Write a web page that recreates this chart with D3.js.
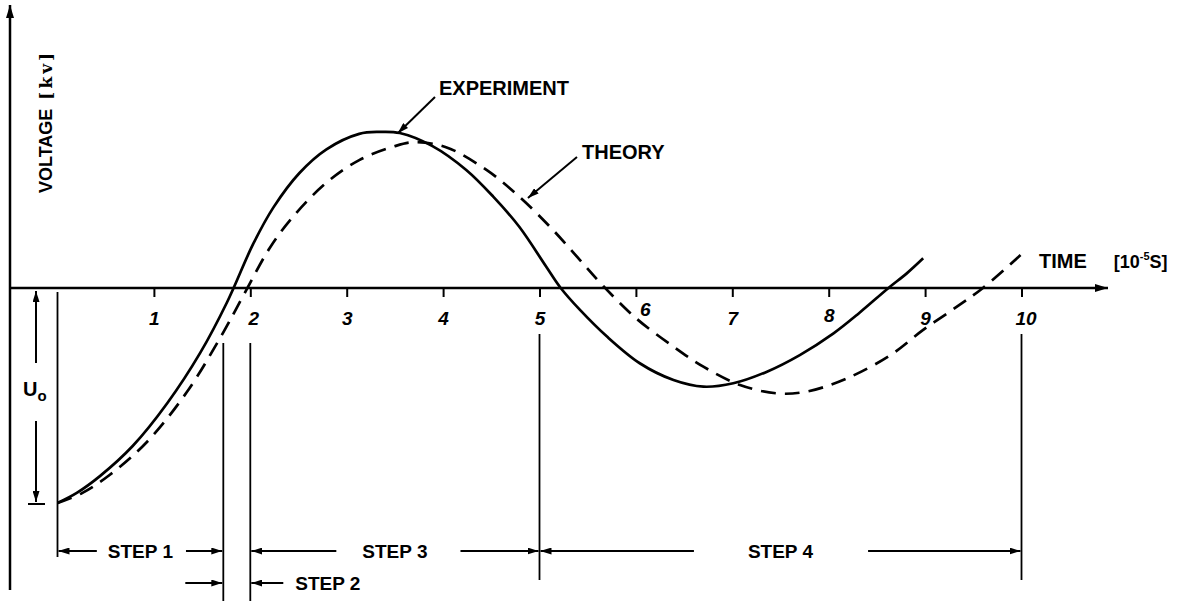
<!DOCTYPE html>
<html><head><meta charset="utf-8">
<script src="https://cdn.jsdelivr.net/npm/d3@7"></script>
<style>body{margin:0;background:#fff}svg{display:block}</style>
</head><body>
<svg id="chart" width="1180" height="601"></svg>
<script>
// ---- data ----
const timeTicks = [1, 2, 3, 4, 5, 6, 7, 8, 9, 10];
const expT = [0, 0.20, 0.44, 0.78, 1.14, 1.48, 1.76, 2.03, 2.24, 2.51, 2.79, 3.13, 3.34, 3.55, 3.89, 4.24, 4.52, 4.79, 5.07, 5.22, 5.42, 5.70, 6.04, 6.39, 6.70, 7.01, 7.36, 7.70, 8.05, 8.32, 8.62, 8.81, 8.98];
const expV = [-10.0, -9.53, -8.75, -7.35, -5.35, -3.02, -0.65, 2.05, 3.75, 5.35, 6.45, 7.17, 7.26, 7.21, 6.60, 5.49, 4.25, 2.85, 0.99, 0, -1.02, -2.26, -3.50, -4.28, -4.59, -4.43, -3.89, -3.12, -2.11, -1.15, 0, 0.68, 1.38];
const theoryT = [0, 0.25, 0.54, 0.93, 1.34, 1.69, 1.92, 2.20, 2.44, 2.79, 3.13, 3.48, 3.69, 4.03, 4.45, 4.79, 5.14, 5.42, 5.66, 6.00, 6.39, 6.70, 7.08, 7.46, 7.77, 8.19, 8.64, 8.98, 9.33, 9.60, 9.99];
const theoryV = [-10.0, -9.55, -8.70, -7.15, -4.85, -2.30, -0.42, 1.85, 3.30, 4.90, 5.95, 6.57, 6.78, 6.55, 5.49, 4.25, 2.70, 1.30, 0.10, -1.40, -2.73, -3.66, -4.51, -4.90, -4.82, -4.20, -3.12, -1.95, -0.87, 0, 1.53];
const stepNames = ["STEP 1", "STEP 2", "STEP 3", "STEP 4"];
const stepBounds = [0, 1.72, 2, 5, 10];
const seriesNames = ["EXPERIMENT", "THEORY"];
const yTitle = "VOLTAGE";
const yUnit = "[kv]";
const xTitle = "TIME";

// ---- layout ----
const svg = d3.select("#chart");
const FONT = "'Liberation Sans', Arial, sans-serif";
const x = d3.scaleLinear().domain([0, 10]).range([57.5, 1021.5]);
const y = d3.scaleLinear().domain([-10, 0]).range([503, 288]);
const y0 = y(0);

const defs = svg.append("defs");
function marker(id, w, h) {
  defs.append("marker").attr("id", id)
    .attr("viewBox", `0 0 ${w} ${h}`).attr("refX", w).attr("refY", h / 2)
    .attr("markerWidth", w).attr("markerHeight", h)
    .attr("markerUnits", "userSpaceOnUse").attr("orient", "auto-start-reverse")
    .append("path").attr("d", `M0,0 L${w},${h / 2} L0,${h} z`).attr("fill", "#000");
}
marker("ah", 11, 7);
marker("axh", 13, 8);

// axes lines
svg.append("line").attr("x1", 10).attr("x2", 10).attr("y1", 590).attr("y2", 5)
  .attr("stroke", "#000").attr("stroke-width", 2.5).attr("marker-end", "url(#axh)");
svg.append("line").attr("x1", 10).attr("x2", 1108).attr("y1", y0).attr("y2", y0)
  .attr("stroke", "#000").attr("stroke-width", 2.5).attr("marker-end", "url(#axh)");

// ticks
const ax = svg.append("g").attr("transform", `translate(0,${y0})`)
  .call(d3.axisBottom(x).tickValues(timeTicks).tickSize(9).tickPadding(16).tickFormat(d3.format("d")));
ax.select(".domain").remove();
ax.selectAll(".tick line").attr("stroke", "#000").attr("stroke-width", 2);
ax.selectAll(".tick text").attr("fill", "#000")
  .style("font-family", FONT).style("font-size", "19px").style("font-weight", "bold").style("font-style", "italic")
  .attr("dx", d => d === 6 ? 9 : (d === 2 ? 3 : (d === 10 ? 4 : 0)))
  .attr("y", d => d === 6 ? 15 : (d === 8 ? 21 : 24))
  .attr("dy", "0.71em");

// curves
const line = d3.line().x(d => x(d[0])).y(d => y(d[1])).curve(d3.curveCatmullRom.alpha(0.5));
svg.append("path").datum(expT.map((t, i) => [t, expV[i]]))
  .attr("d", line).attr("fill", "none").attr("stroke", "#000").attr("stroke-width", 2.7);
svg.append("path").datum(theoryT.map((t, i) => [t, theoryV[i]]))
  .attr("d", line).attr("fill", "none").attr("stroke", "#000").attr("stroke-width", 2.7)
  .attr("stroke-dasharray", "15,9");

// series labels with pointer arrows
function label(txt, tx, ty) {
  svg.append("text").attr("x", tx).attr("y", ty).text(txt)
    .style("font-family", FONT).style("font-size", "20px").style("font-weight", "bold");
}
label(seriesNames[0], 439, 95);
svg.append("line").attr("x1", 435).attr("y1", 97).attr("x2", x(3.53)).attr("y2", y(7.2))
  .attr("stroke", "#000").attr("stroke-width", 2).attr("marker-end", "url(#ah)");
label(seriesNames[1], 582, 159);
svg.append("line").attr("x1", 577).attr("y1", 157).attr("x2", x(4.88)).attr("y2", y(4.19))
  .attr("stroke", "#000").attr("stroke-width", 2).attr("marker-end", "url(#ah)");

// y title
const yt = svg.append("text").attr("transform", "translate(52,193) rotate(-90)")
  .style("font-family", FONT).style("font-size", "18px").style("font-weight", "bold");
yt.append("tspan").text(yTitle);
yt.append("tspan").attr("dx", 9).text(yUnit)
  .style("font-family", "'DejaVu Serif', serif").style("font-size", "17px").style("letter-spacing", "3px");

// x title
const xt = svg.append("text").attr("x", 1039).attr("y", 268)
  .style("font-family", FONT).style("font-size", "20px").style("font-weight", "bold");
xt.append("tspan").text(xTitle);
xt.append("tspan").attr("dx", 27).style("font-size", "18px").text("[10");
xt.append("tspan").attr("dy", -8).style("font-size", "11px").text("-5");
xt.append("tspan").attr("dy", 8).style("font-size", "18px").text("S]");

// U0 dimension
const ux = 36;
svg.append("line").attr("x1", ux).attr("x2", ux).attr("y1", 363).attr("y2", y0 + 3)
  .attr("stroke", "#000").attr("stroke-width", 2).attr("marker-end", "url(#ah)");
svg.append("line").attr("x1", ux).attr("x2", ux).attr("y1", 421).attr("y2", y(-10) - 1)
  .attr("stroke", "#000").attr("stroke-width", 2).attr("marker-end", "url(#ah)");
svg.append("line").attr("x1", 28).attr("x2", 45).attr("y1", y(-10) + 1).attr("y2", y(-10) + 1)
  .attr("stroke", "#000").attr("stroke-width", 2);
const ut = svg.append("text").attr("x", 23).attr("y", 396)
  .style("font-family", FONT).style("font-size", "20px").style("font-weight", "bold");
ut.append("tspan").text("U");
ut.append("tspan").attr("dy", 5).style("font-size", "15px").text("o");

// step boundaries
function vline(t, y1, y2) {
  svg.append("line").attr("x1", x(t)).attr("x2", x(t)).attr("y1", y1).attr("y2", y2)
    .attr("stroke", "#000").attr("stroke-width", 1.8);
}
vline(stepBounds[0], 292, 557);
vline(stepBounds[1], 343, 601);
vline(stepBounds[2], 343, 601);
vline(stepBounds[3], 334, 580);
vline(stepBounds[4], 334, 580);

function arrow(x1, x2, yy) {
  svg.append("line").attr("x1", x1).attr("x2", x2).attr("y1", yy).attr("y2", yy)
    .attr("stroke", "#000").attr("stroke-width", 2).attr("marker-end", "url(#ah)");
}
const rowA = 551, rowB = 583;
function span(t0, t1, name, gapL, gapR) {
  const mid = (x(t0) + x(t1)) / 2;
  const tx = svg.append("text").attr("x", mid).attr("y", rowA + 7).attr("text-anchor", "middle").text(name)
    .style("font-family", FONT).style("font-size", "19px").style("font-weight", "bold");
  const w = tx.node().getComputedTextLength();
  arrow(mid - w / 2 - gapL, x(t0) + 1, rowA);
  arrow(mid + w / 2 + gapR, x(t1) - 1, rowA);
}
span(stepBounds[0], stepBounds[1], stepNames[0], 11, 13);
span(stepBounds[2], stepBounds[3], stepNames[2], 26, 33);
span(stepBounds[3], stepBounds[4], stepNames[3], 54, 55);
// step 2 (narrow): arrows from outside
arrow(x(stepBounds[1]) - 38, x(stepBounds[1]) - 1, rowB);
arrow(x(stepBounds[2]) + 33, x(stepBounds[2]) + 1, rowB);
svg.append("text").attr("x", x(stepBounds[2]) + 45).attr("y", rowB + 7).text(stepNames[1])
  .style("font-family", FONT).style("font-size", "19px").style("font-weight", "bold");
</script>
</body></html>
